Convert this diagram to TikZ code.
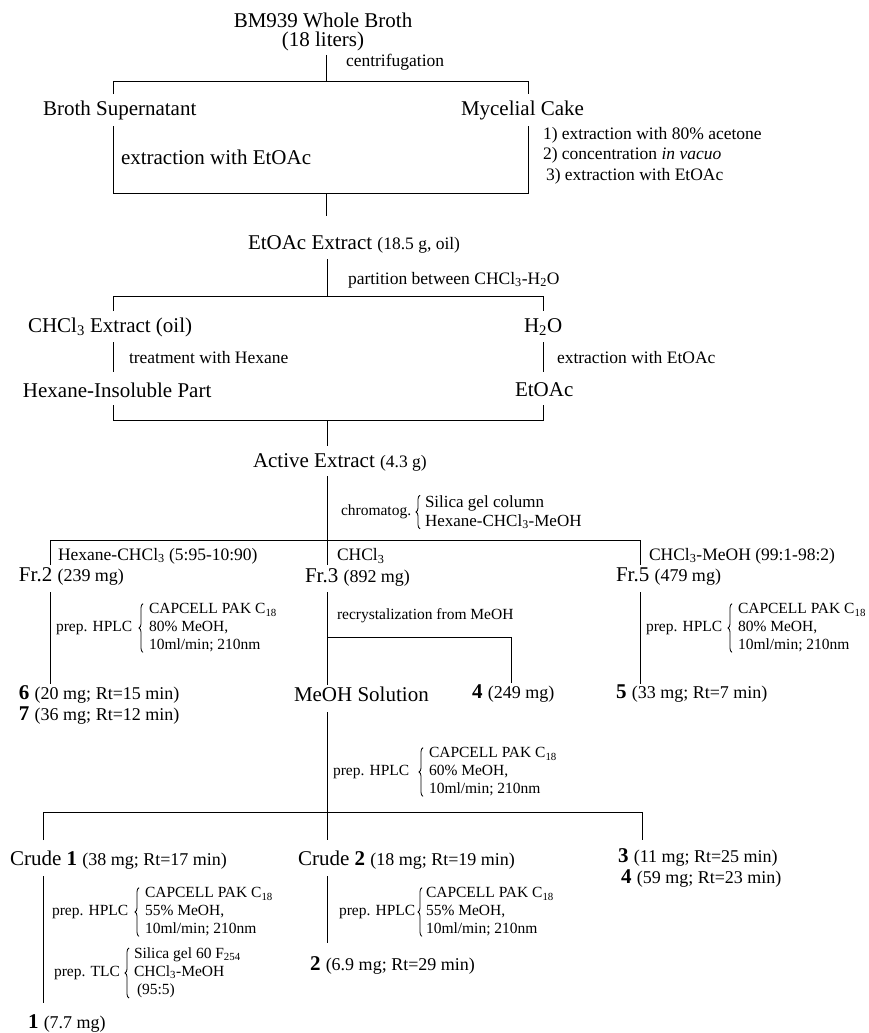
\documentclass[tikz,border=0pt]{standalone}
\usepackage{fontspec}
\setmainfont{Liberation Serif}
\usetikzlibrary{decorations.pathreplacing}
\newcommand\fszA{\fontsize{21}{24}\selectfont}
\newcommand\fszB{\fontsize{17.5}{20}\selectfont}
\newcommand\fszR{\fontsize{18}{20}\selectfont}
\newcommand\fszC{\fontsize{15.5}{18}\selectfont}
\begin{document}
\begin{tikzpicture}[x=1pt,y=-1pt,line width=1pt,
  every node/.style={inner sep=0pt,outer sep=0pt},
  tA/.style={anchor=west,font=\fszA},
  tB/.style={anchor=west,font=\fszB},
  tC/.style={anchor=west,font=\fszC},
  cond/.style={anchor=west,font=\fszC,align=left},
  brc/.style={decorate,decoration={brace,amplitude=4pt},line width=0.8pt}]
\fill[white] (0,0) rectangle (869,1033);
\useasboundingbox (0,0) rectangle (869,1033);

% ---- top
\node[anchor=center,font=\fszA] (broth) at (323,20) {BM939 Whole Broth};
\node[anchor=center,font=\fszA] (liters) at (323,41) {(18 liters)};
\coordinate (a1) at (326,55); \coordinate (a2) at (326,81);
\draw (a1) -- (a2);
\node[tB] (centr) at (346,62) {centrifugation};
\coordinate (bLt) at (113,94); \coordinate (bL) at (113,81);
\coordinate (bR) at (528,81); \coordinate (bRt) at (528,94);
\draw (bLt) -- (bL) -- (bR) -- (bRt);
\node[tA] (sup) at (43,110) {Broth Supernatant};
\node[tA] (cake) at (461,110) {Mycelial Cake};
\coordinate (xL1) at (113,126); \coordinate (xL2) at (113,193);
\coordinate (xR2) at (528,193); \coordinate (xR1) at (528,126);
\draw (xL1) -- (xL2) -- (xR2) -- (xR1);
\node[tA] (extr) at (121,157) {extraction with EtOAc};
\node[tB] (s1) at (543,135) {1) extraction with 80\% acetone};
\node[tB] (s2) at (543,155) {2) concentration \textit{in vacuo}};
\node[tB] (s3) at (546,176) {3) extraction with EtOAc};
\coordinate (a3) at (326,193); \coordinate (a4) at (326,216);
\draw (a3) -- (a4);
\node[tA] (etex) at (248,244) {EtOAc Extract {\fszB (18.5 g, oil)}};

% ---- partition
\coordinate (p1) at (327,259); \coordinate (p2) at (327,296);
\draw (p1) -- (p2);
\node[tB] (part) at (348,280) {partition between CHCl\textsubscript{3}-H\textsubscript{2}O};
\coordinate (pLt) at (113,311); \coordinate (pL) at (113,296);
\coordinate (pR) at (543,296); \coordinate (pRt) at (543,311);
\draw (pLt) -- (pL) -- (pR) -- (pRt);
\node[tA] (chcl) at (28,327) {CHCl\textsubscript{3} Extract (oil)};
\node[tA] (h2o) at (524,327) {H\textsubscript{2}O};
\coordinate (t1) at (113,342); \coordinate (t2) at (113,372);
\draw (t1) -- (t2);
\node[tB] (treat) at (129,358) {treatment with Hexane};
\coordinate (e1) at (543,342); \coordinate (e2) at (543,372);
\draw (e1) -- (e2);
\node[tB] (exe) at (557,358) {extraction with EtOAc};
\node[tA] (hexins) at (23,390) {Hexane-Insoluble Part};
\node[tA] (etoac) at (515,390) {EtOAc};
\coordinate (qLt) at (113,405); \coordinate (qL) at (113,420);
\coordinate (qR) at (543,420); \coordinate (qRt) at (543,405);
\draw (qLt) -- (qL) -- (qR) -- (qRt);
\coordinate (q1) at (327,420); \coordinate (q2) at (327,446);
\draw (q1) -- (q2);
\node[tA] (active) at (253,462) {Active Extract {\fszB (4.3 g)}};

% ---- chromatography
\coordinate (c1) at (327,476); \coordinate (c2) at (327,540);
\draw (c1) -- (c2);
\node[tC] (chrom) at (341,512) {chromatog.};
\node[tB,align=left,font=\fontsize{17}{19}\selectfont] (silica) at (425,512) {Silica gel column\\Hexane-CHCl\textsubscript{3}-MeOH};
\draw[brc] ([xshift=-5pt]silica.south west) -- ([xshift=-5pt]silica.north west);
\coordinate (hLt) at (50,565); \coordinate (hL) at (50,540);
\coordinate (hR) at (640,540); \coordinate (hRt) at (640,565);
\coordinate (hMt) at (327,565);
\draw (hLt) -- (hL) -- (hR) -- (hRt);
\draw (c2) -- (hMt);
\node[tB] (l2) at (58,556) {Hexane-CHCl\textsubscript{3} (5:95-10:90)};
\node[tB] (l3) at (337,556) {CHCl\textsubscript{3}};
\node[tB] (l5) at (649,556) {CHCl\textsubscript{3}-MeOH (99:1-98:2)};
\node[tA] (fr2) at (19,576) {Fr.2 {\fszR (239 mg)}};
\node[tA] (fr3) at (305,577) {Fr.3 {\fszR (892 mg)}};
\node[tA] (fr5) at (616,577) {Fr.5 {\fszR (479 mg)}};

% ---- Fr.2 branch
\coordinate (f2a) at (50,592); \coordinate (f2b) at (50,684);
\draw (f2a) -- (f2b);
\node[tC] (hp2) at (56,628) {prep. HPLC};
\node[cond] (cd2) at (149,628) {CAPCELL PAK C\textsubscript{18}\\80\% MeOH,\\10ml/min; 210nm};
\draw[brc] ([xshift=-6pt]cd2.south west) -- ([xshift=-6pt]cd2.north west);

% ---- Fr.3 branch
\coordinate (f3a) at (327,592); \coordinate (f3j) at (327,637); \coordinate (f3b) at (327,685);
\draw (f3a) -- (f3b);
\node[tC] (recr) at (337,616) {recrystalization from MeOH};
\coordinate (f3r) at (511,637); \coordinate (f3rb) at (511,683);
\draw (f3j) -- (f3r) -- (f3rb);

% ---- Fr.5 branch
\coordinate (f5a) at (640,592); \coordinate (f5b) at (640,684);
\draw (f5a) -- (f5b);
\node[tC] (hp5) at (646,628) {prep. HPLC};
\node[cond] (cd5) at (738,628) {CAPCELL PAK C\textsubscript{18}\\80\% MeOH,\\10ml/min; 210nm};
\draw[brc] ([xshift=-6pt]cd5.south west) -- ([xshift=-6pt]cd5.north west);

% ---- results row
\node[tA] (r6) at (19,694) {\textbf{6} {\fszR (20 mg; Rt=15 min)}};
\node[tA] (r7) at (19,716) {\textbf{7} {\fszR (36 mg; Rt=12 min)}};
\node[tA] (meoh) at (294,694) {MeOH Solution};
\node[tA] (r4a) at (472,694) {\textbf{4} {\fszR (249 mg)}};
\node[tA] (r5) at (616,694) {\textbf{5} {\fszR (33 mg; Rt=7 min)}};

% ---- MeOH solution HPLC
\coordinate (m1) at (327,712); \coordinate (m2) at (327,812);
\draw (m1) -- (m2);
\node[tC] (hpm) at (333,772) {prep. HPLC};
\node[cond] (cdm) at (429,772) {CAPCELL PAK C\textsubscript{18}\\60\% MeOH,\\10ml/min; 210nm};
\draw[brc] ([xshift=-6pt]cdm.south west) -- ([xshift=-6pt]cdm.north west);
\coordinate (nLt) at (43,840); \coordinate (nL) at (43,812);
\coordinate (nR) at (642,812); \coordinate (nRt) at (642,840);
\coordinate (nMt) at (327,840);
\draw (nLt) -- (nL) -- (nR) -- (nRt);
\draw (m2) -- (nMt);
\node[tA] (cr1) at (10,860) {Crude \textbf{1} {\fszR (38 mg; Rt=17 min)}};
\node[tA] (cr2) at (298,860) {Crude \textbf{2} {\fszR (18 mg; Rt=19 min)}};
\node[tA] (r3) at (618,857) {\textbf{3} {\fszR (11 mg; Rt=25 min)}};
\node[tA] (r4b) at (621,879) {\textbf{4} {\fszR (59 mg; Rt=23 min)}};

% ---- Crude 1 branch
\coordinate (k1a) at (43,876); \coordinate (k1b) at (43,1003);
\draw (k1a) -- (k1b);
\node[tC] (hpk1) at (52,912) {prep. HPLC};
\node[cond] (cdk1) at (145,912) {CAPCELL PAK C\textsubscript{18}\\55\% MeOH,\\10ml/min; 210nm};
\draw[brc] ([xshift=-6pt]cdk1.south west) -- ([xshift=-6pt]cdk1.north west);
\node[tC] (tlc) at (54,973) {prep. TLC};
\node[cond] (cdt) at (134,973) {Silica gel 60 F\textsubscript{254}\\CHCl\textsubscript{3}-MeOH\\\hspace*{3pt}(95:5)};
\draw[brc] ([xshift=-5pt]cdt.south west) -- ([xshift=-5pt]cdt.north west);
\node[tA] (r1) at (28,1023) {\textbf{1} {\fszR (7.7 mg)}};

% ---- Crude 2 branch
\coordinate (k2a) at (327,876); \coordinate (k2b) at (327,943);
\draw (k2a) -- (k2b);
\node[tC] (hpk2) at (339,912) {prep. HPLC};
\node[cond] (cdk2) at (426,912) {CAPCELL PAK C\textsubscript{18}\\55\% MeOH,\\10ml/min; 210nm};
\draw[brc] ([xshift=-4pt]cdk2.south west) -- ([xshift=-4pt]cdk2.north west);
\node[tA] (r2) at (310,965) {\textbf{2} {\fszR (6.9 mg; Rt=29 min)}};
\end{tikzpicture}
\end{document}
